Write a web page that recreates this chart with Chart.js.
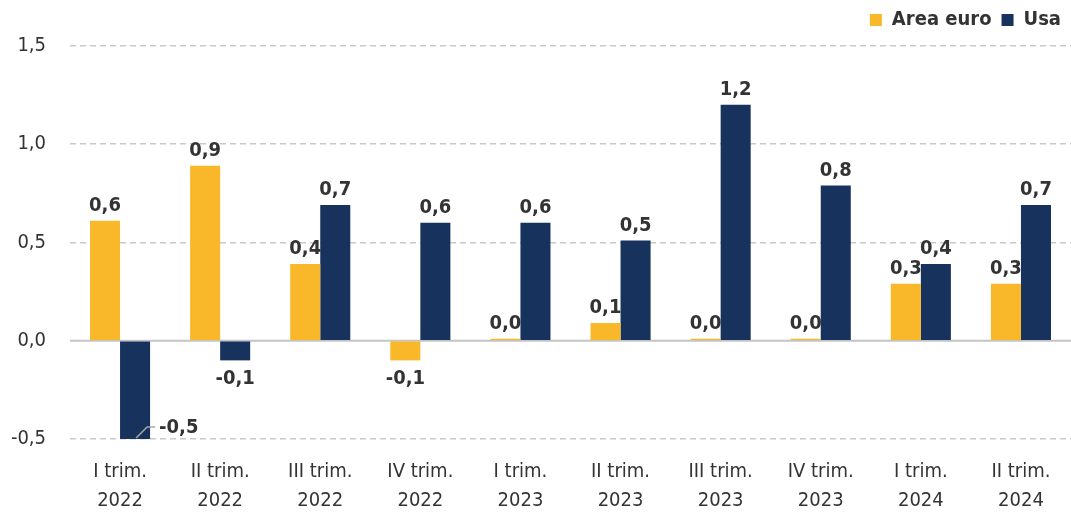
<!DOCTYPE html>
<html>
<head>
<meta charset="utf-8">
<script src="https://cdn.jsdelivr.net/npm/chart.js@4.4.1/dist/chart.umd.min.js"></script>
<style>
  html,body{margin:0;padding:0;background:#fff;}
  #wrap{width:1071px;height:516px;}
</style>
</head>
<body>
<div id="wrap"><canvas id="gdp"></canvas></div>
<script>
// quarterly GDP growth, euro area vs USA
const quarters = [
  ['I trim.','2022'],['II trim.','2022'],['III trim.','2022'],['IV trim.','2022'],
  ['I trim.','2023'],['II trim.','2023'],['III trim.','2023'],['IV trim.','2023'],
  ['I trim.','2024'],['II trim.','2024']
];
const euroArea = [0.61, 0.89, 0.39, -0.10, 0.01, 0.09, 0.01, 0.01, 0.29, 0.29];
const usa      = [-0.50, -0.10, 0.69, 0.60, 0.60, 0.51, 1.20, 0.79, 0.39, 0.69];
const yTicks   = [-0.5, 0, 0.5, 1, 1.5];

const FONT = "'DejaVu Sans Condensed','Liberation Sans Narrow','Roboto',sans-serif";
const TXT = '#333333';

const fmt = v => v.toFixed(1).replace('.', ',');

// zero line drawn under the bars
const zeroLine = {
  id:'zeroLine',
  beforeDatasetsDraw(chart){
    const {ctx, chartArea, scales} = chart;
    const y = scales.y.getPixelForValue(0);
    ctx.save();
    ctx.strokeStyle = '#c4c4c4';
    ctx.lineWidth = 2;
    ctx.beginPath();
    ctx.moveTo(chartArea.left, y);
    ctx.lineTo(chartArea.right, y);
    ctx.stroke();
    ctx.restore();
  }
};

// value labels over / under each bar
const barLabels = {
  id:'barLabels',
  afterDatasetsDraw(chart){
    const ctx = chart.ctx;
    ctx.save();
    ctx.font = 'bold 20px ' + FONT;
    ctx.fillStyle = TXT;
    ctx.textAlign = 'center';
    chart.data.datasets.forEach((ds, di)=>{
      const meta = chart.getDatasetMeta(di);
      meta.data.forEach((bar, i)=>{
        const v = ds.data[i];
        const txt = fmt(v);
        if(di === 1 && i === 0){
          // leader line for the -0,5 bar
          const bx = bar.x + 1, by = bar.y - 1;
          ctx.strokeStyle = '#a6a6a6';
          ctx.lineWidth = 1.5;
          ctx.beginPath();
          ctx.moveTo(bx, by);
          ctx.lineTo(bx + 11, by - 11);
          ctx.lineTo(bx + 19, by - 11);
          ctx.stroke();
          ctx.textAlign = 'left';
          ctx.textBaseline = 'middle';
          ctx.fillText(txt, bx + 23, by - 10);
          ctx.textAlign = 'center';
          return;
        }
        if(v >= 0){
          ctx.textBaseline = 'bottom';
          ctx.fillText(txt, bar.x, bar.y - 5);
        } else {
          ctx.textBaseline = 'top';
          ctx.fillText(txt, bar.x, bar.y + 8);
        }
      });
    });
    ctx.restore();
  }
};

new Chart(document.getElementById('gdp'), {
  type:'bar',
  data:{
    labels: quarters,
    datasets:[
      {label:'Area euro', data: euroArea, backgroundColor:'#F8B82A', categoryPercentage:0.6, barPercentage:1},
      {label:'Usa', data: usa, backgroundColor:'#17325C', categoryPercentage:0.6, barPercentage:1}
    ]
  },
  options:{
    responsive:true,
    maintainAspectRatio:false,
    animation:false,
    layout:{padding:{top:0,right:0,bottom:0,left:0}},
    plugins:{
      tooltip:{enabled:false},
      legend:{
        position:'top',
        align:'end',
        labels:{
          boxWidth:12, boxHeight:12, padding:10,
          color:TXT,
          font:{family:FONT, size:20, weight:'bold'}
        }
      }
    },
    scales:{
      x:{
        grid:{display:false, drawTicks:false},
        border:{display:false},
        ticks:{color:TXT, font:{family:FONT, size:20, lineHeight:1.45}, padding:18, maxRotation:0, autoSkip:false},
        afterFit(s){ s.height = 77; }
      },
      y:{
        min:-0.5, max:1.53,
        afterBuildTicks(s){ s.ticks = yTicks.map(v=>({value:v})); },
        grid:{color: c => c.tick && c.tick.value === 0 ? 'rgba(0,0,0,0)' : '#c9c9c9', lineWidth:1.5, drawTicks:false},
        border:{display:false, dash:[6,4]},
        ticks:{color:TXT, font:{family:FONT, size:20}, padding:24, callback: v => fmt(v)},
        afterFit(s){ s.width = 70; }
      }
    }
  },
  plugins:[zeroLine, barLabels]
});
</script>
</body>
</html>
